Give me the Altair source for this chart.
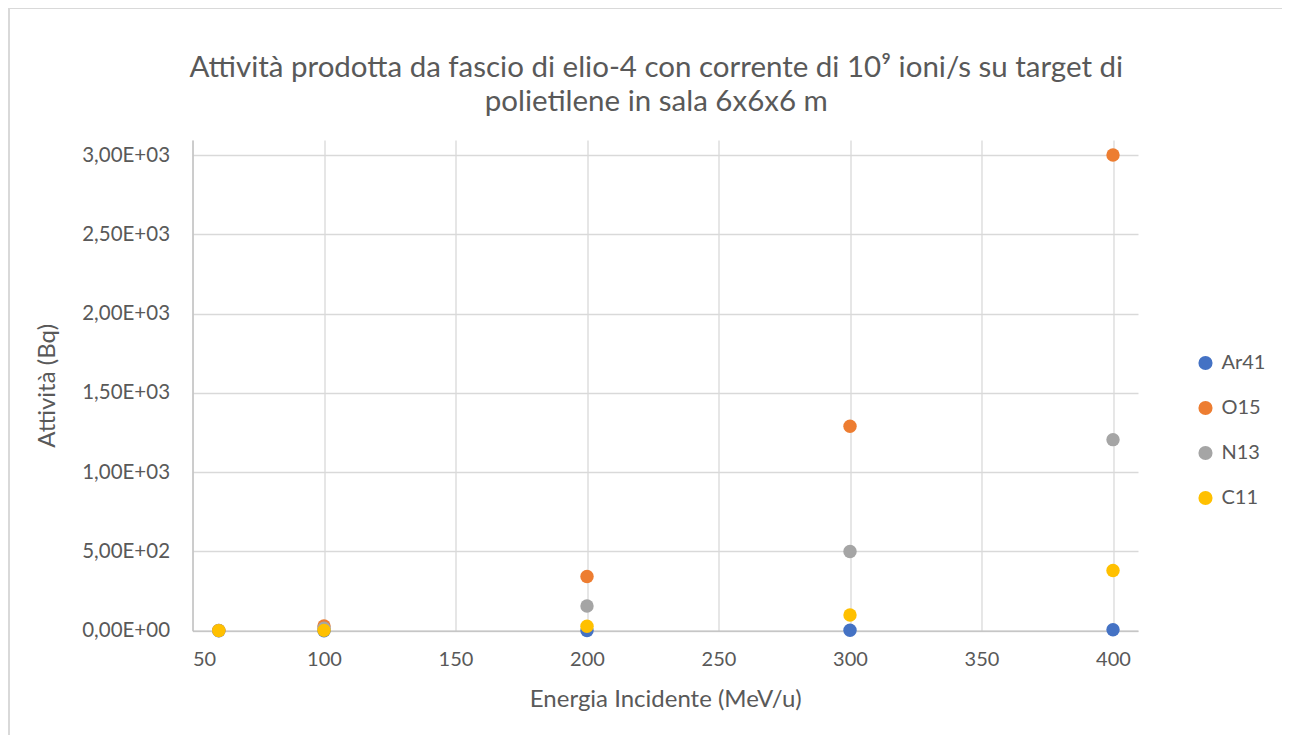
import altair as alt
import pandas as pd

energy = [60, 100, 200, 300, 400]
series = ["Ar41", "O15", "N13", "C11"]
ar41 = [0, 0, 1, 3, 6]
o15 = [2, 30, 342, 1290, 3000]
n13 = [1, 15, 156, 500, 1205]
c11 = [0.5, 2, 28, 99, 380]
colors = ["#4472C4", "#ED7D31", "#A5A5A5", "#FFC000"]

x_ticks = [50, 100, 150, 200, 250, 300, 350, 400]
y_ticks = [0, 500, 1000, 1500, 2000, 2500, 3000]

rows = []
for si, (name, vals) in enumerate(zip(series, [ar41, o15, n13, c11])):
    for e, v in zip(energy, vals):
        rows.append({"Energia": e, "Attivita": v, "Serie": name, "ordine": si})
df = pd.DataFrame(rows)

FONT = "Lato"
TXT = "#595959"
GRID = "#D9D9D9"

points = alt.Chart(df).mark_circle(size=180, opacity=1).encode(
    x=alt.X("Energia:Q",
            scale=alt.Scale(domain=[50, 409.5], nice=False, zero=False),
            axis=alt.Axis(values=x_ticks, title="Energia Incidente (MeV/u)",
                          labelFontSize=20, titleFontSize=24, labelPadding=19,
                          titlePadding=18, ticks=False, grid=True)),
    y=alt.Y("Attivita:Q",
            scale=alt.Scale(domain=[0, 3095], nice=False),
            axis=alt.Axis(values=y_ticks, title="Attività (Bq)",
                          labelExpr="replace(replace(format(datum.value, '.2e'), '.', ','), 'e+', 'E+0')",
                          labelFontSize=20.5, titleFontSize=24, labelPadding=23,
                          titlePadding=22, ticks=False, grid=True)),
    color=alt.Color("Serie:N",
                    scale=alt.Scale(domain=series, range=colors),
                    legend=alt.Legend(title=None, orient="none", legendX=1003, legendY=213,
                                      symbolType="circle", symbolSize=200,
                                      labelFontSize=20, labelColor=TXT, labelFont=FONT,
                                      rowPadding=25, labelOffset=6)),
    order=alt.Order("ordine:Q"),
)

frame_df = pd.DataFrame({"k": [0]})
frame_top = alt.Chart(frame_df).mark_rule(color=GRID, strokeWidth=2).encode(
    x=alt.value(-184), x2=alt.value(1090), y=alt.value(-132))
frame_left = alt.Chart(frame_df).mark_rule(color=GRID, strokeWidth=2).encode(
    x=alt.value(-183.5), y=alt.value(-132), y2=alt.value(600))

chart = alt.layer(frame_top, frame_left, points).properties(
    width=945.5,
    height=490.7,
    title=alt.Title(
        ["Attività prodotta da fascio di elio-4 con corrente di 10⁹ ioni/s su target di",
         "polietilene in sala 6x6x6 m"],
        fontSize=29.5, font=FONT, color=TXT, fontWeight="normal",
        anchor="middle", frame="group", dx=-9, offset=-111, lineHeight=34),
    autosize=alt.AutoSizeParams(type="none"),
    padding={"left": 184.5, "top": 132, "right": 144, "bottom": 104},
).configure(
    background="white",
    axis=alt.AxisConfig(
        labelColor=TXT, titleColor=TXT, labelFont=FONT, titleFont=FONT,
        titleFontWeight="normal", gridColor=GRID, gridWidth=1.3,
        domainColor="#BFBFBF", domainWidth=1.3),
    view=alt.ViewConfig(stroke=None),
)

chart.save("out.html", embed_options={"renderer": "svg", "actions": False})
